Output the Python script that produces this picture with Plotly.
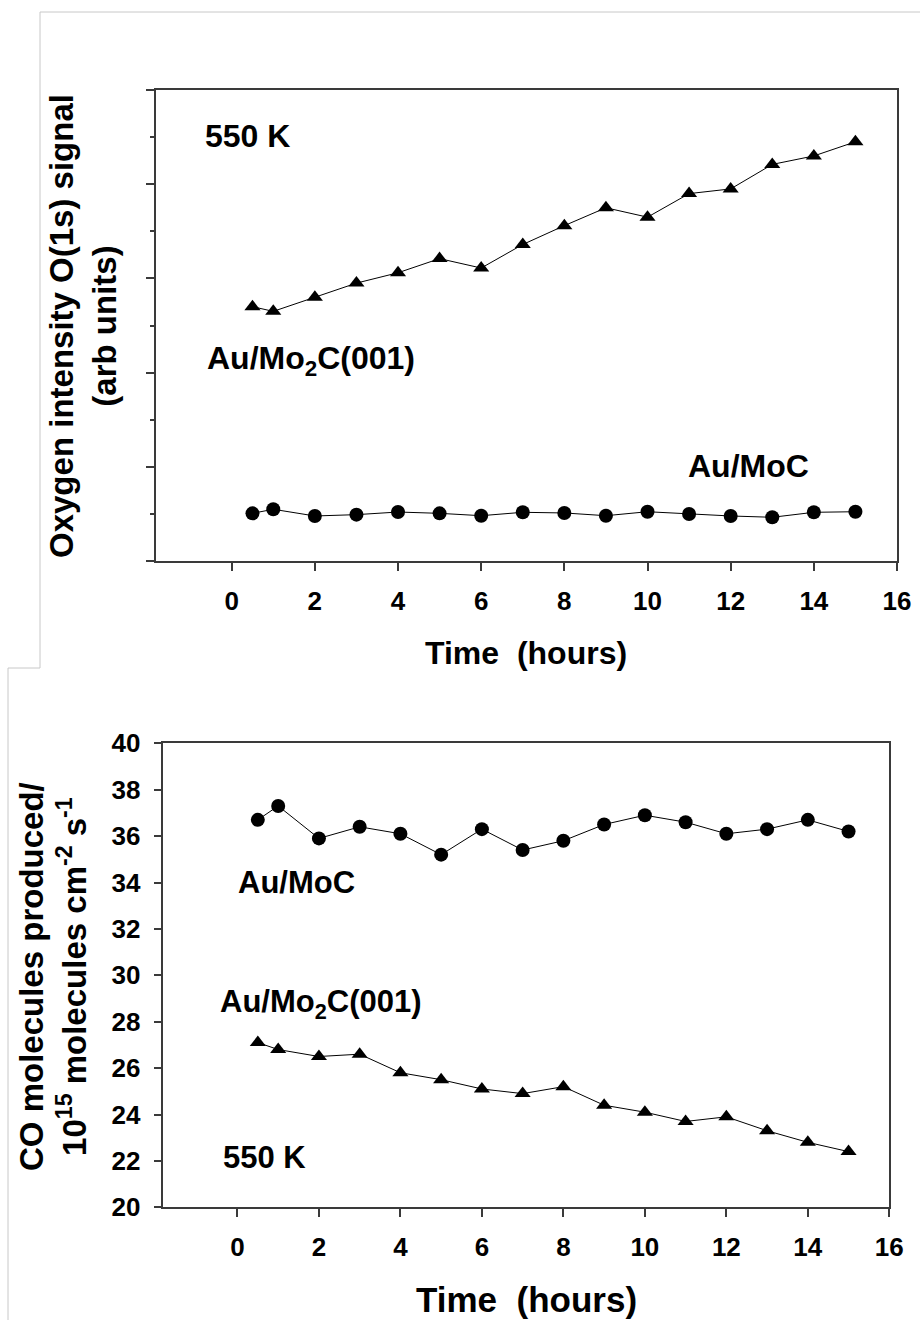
import plotly.graph_objects as go

W, H = 920, 1320

# ---------------- data ----------------
time_h = [0.5, 1, 2, 3, 4, 5, 6, 7, 8, 9, 10, 11, 12, 13, 14, 15]

# Top panel: Oxygen intensity O(1s) (arb units)
oxy_mo2c = [2.70, 2.65, 2.80, 2.95, 3.06, 3.21, 3.11, 3.36, 3.56, 3.75, 3.65, 3.90, 3.95, 4.21, 4.30, 4.45]
oxy_moc = [0.506, 0.549, 0.478, 0.492, 0.520, 0.506, 0.481, 0.517, 0.510, 0.481, 0.523, 0.499, 0.478, 0.464, 0.517, 0.523]

# Bottom panel: CO molecules produced (10^15 molecules cm^-2 s^-1)
co_moc = [36.7, 37.3, 35.9, 36.4, 36.1, 35.2, 36.3, 35.4, 35.8, 36.5, 36.9, 36.6, 36.1, 36.3, 36.7, 36.2]
co_mo2c = [27.1, 26.8, 26.5, 26.6, 25.8, 25.5, 25.1, 24.9, 25.2, 24.4, 24.1, 23.7, 23.9, 23.3, 22.8, 22.4]

x_ticks = [0, 2, 4, 6, 8, 10, 12, 14, 16]
co_ticks = [20, 22, 24, 26, 28, 30, 32, 34, 36, 38, 40]

FONT = "Liberation Sans"
AX = "#3a3a3a"


def px(x):
    return x / W


def py(y):
    return 1 - y / H


fig = go.Figure()

line_style = dict(color="black", width=1)
tri = dict(symbol="triangle-up", size=14, color="black")
circ = dict(symbol="circle", size=14, color="black")

fig.add_trace(go.Scatter(x=time_h, y=oxy_mo2c, mode="lines+markers", line=line_style,
                         marker=tri, xaxis="x", yaxis="y", showlegend=False))
fig.add_trace(go.Scatter(x=time_h, y=oxy_moc, mode="lines+markers", line=line_style,
                         marker=circ, xaxis="x", yaxis="y", showlegend=False))
fig.add_trace(go.Scatter(x=time_h, y=co_moc, mode="lines+markers", line=line_style,
                         marker=circ, xaxis="x2", yaxis="y2", showlegend=False))
fig.add_trace(go.Scatter(x=time_h, y=co_mo2c, mode="lines+markers", line=line_style,
                         marker=tri, xaxis="x2", yaxis="y2", showlegend=False))

tickfont = dict(family=FONT, size=26, color="black", weight="bold")

common_x = dict(range=[-1.82, 16], tickvals=x_ticks, ticks="outside", ticklen=8, tickwidth=1.5,
                tickcolor=AX, showline=True, linecolor=AX, linewidth=1.5, mirror=True,
                showgrid=False, zeroline=False, tickfont=tickfont, automargin=False)

fig.update_layout(
    width=W, height=H, autosize=False,
    margin=dict(l=0, r=0, t=0, b=0, pad=0, autoexpand=False),
    paper_bgcolor="white", plot_bgcolor="white",
    xaxis=dict(domain=[px(156), px(897)], anchor="y", ticklabelstandoff=8, **common_x),
    yaxis=dict(domain=[py(561), py(90)], anchor="x", range=[0, 5], dtick=1, tick0=0,
               ticks="outside", ticklen=8, tickwidth=1.5, tickcolor=AX,
               showticklabels=False, showline=True, linecolor=AX, linewidth=1.5, mirror=True,
               showgrid=False, zeroline=False, automargin=False,
               minor=dict(ticks="outside", ticklen=4, dtick=0.5, tick0=0, tickcolor=AX, tickwidth=1.5)),
    xaxis2=dict(domain=[px(163.3), px(889.3)], anchor="y2", ticklabelstandoff=8, **common_x),
    yaxis2=dict(domain=[py(1207.3), py(743.3)], anchor="x2", range=[20, 40], tickvals=co_ticks,
                ticks="outside", ticklen=8, tickwidth=1.5, tickcolor=AX,
                showline=True, linecolor=AX, linewidth=1.5, mirror=True, automargin=False,
                showgrid=False, zeroline=False, tickfont=tickfont, ticklabelstandoff=8),
)


def ann(text, x, y, size, xanchor="left", yanchor="middle", angle=0):
    fig.add_annotation(text=text, x=px(x), y=py(y), xref="paper", yref="paper",
                       xanchor=xanchor, yanchor=yanchor, showarrow=False, textangle=angle,
                       font=dict(family=FONT, size=size, color="black", weight="bold"))


# top panel texts
ann("550 K", 203, 136, 32)
ann("Au/Mo<sub>2</sub>C(001)", 205, 360, 32)
ann("Au/MoC", 686, 466, 32)
ann("Time  (hours)", 526, 653, 32, xanchor="center")
ann("Oxygen intensity O(1s) signal<br>(arb units)", 83, 326, 33, xanchor="center", angle=-90)

# bottom panel texts
ann("Au/MoC", 236, 882, 31)
ann("Au/Mo<sub>2</sub>C(001)", 218, 1004, 31)
ann("550 K", 221, 1157, 31)
ann("Time  (hours)", 526.5, 1299, 35, xanchor="center")
ann("CO molecules produced/<br>10<sup>15</sup> molecules cm<sup>-2</sup> s<sup>-1</sup>", 53, 977, 33,
    xanchor="center", angle=-90)

# light grey frames of the two pasted panels
frame = dict(color="#c8c8c8", width=1)
for (x0, y0, x1, y1) in [(40, 12, 920, 12), (40, 12, 40, 668), (8, 668, 40, 668), (8, 668, 8, 1320)]:
    fig.add_shape(type="line", xref="paper", yref="paper", x0=px(x0), y0=py(y0), x1=px(x1), y1=py(y1),
                  line=frame)

fig.write_html(
    "out.html",
    config={"responsive": False, "displayModeBar": False},
    post_script="document.body.style.margin='0';document.body.style.overflow='hidden';",
)
